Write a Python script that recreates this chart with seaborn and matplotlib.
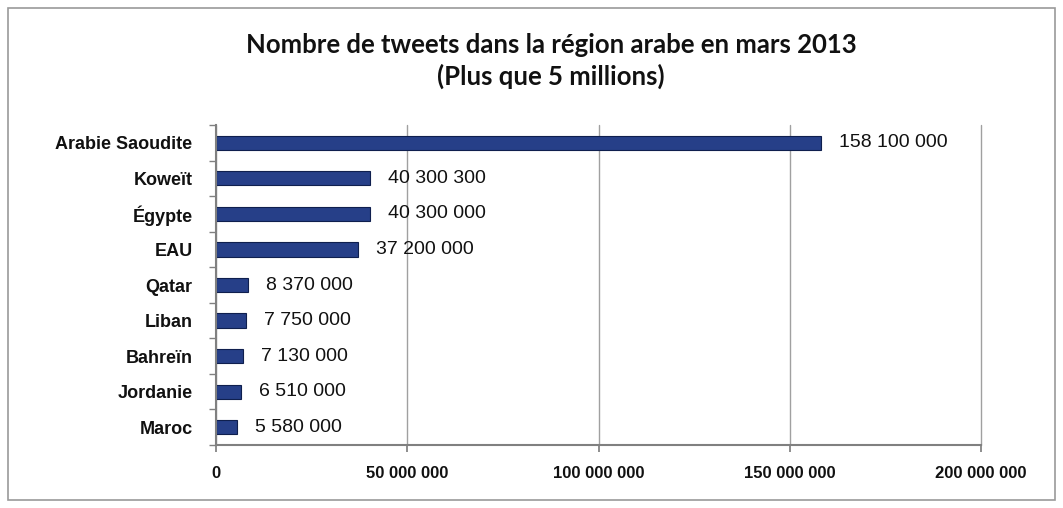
import matplotlib
matplotlib.use("Agg")
import matplotlib.pyplot as plt
import seaborn as sns
import pandas as pd
from matplotlib.patches import Rectangle

countries = ["Arabie Saoudite", "Koweït", "Égypte", "EAU", "Qatar", "Liban", "Bahreïn", "Jordanie", "Maroc"]
tweets = [158100000, 40300300, 40300000, 37200000, 8370000, 7750000, 7130000, 6510000, 5580000]
x_ticks = [0, 50000000, 100000000, 150000000, 200000000]

def fmt(v):
    return f"{v:,}".replace(",", " ")

df = pd.DataFrame({"pays": countries, "tweets": tweets})

sns.set_theme(style="white")
plt.rcParams['font.family'] = ['Liberation Sans', 'DejaVu Sans']

fig = plt.figure(figsize=(10.63, 5.08), dpi=100)
fig.patch.set_facecolor("white")
fig.patches.append(Rectangle((8/1063, 8/508), 1047/1063, 492/508, transform=fig.transFigure,
                             fill=False, edgecolor="#9a9a9a", linewidth=1.2))

ax = fig.add_axes([216/1063, 1 - 445/508, (981 - 216)/1063, (445 - 125)/508])
sns.barplot(data=df, x="tweets", y="pays", orient="h", color="#263f88", saturation=1,
            width=0.4, edgecolor="#0f1f4e", linewidth=0.8, ax=ax)

for c in ax.containers:
    ax.bar_label(c, labels=[fmt(v) for v in tweets], padding=13, fontsize=14, color="#111111")

ax.set_xlim(0, 200000000)
ax.set_xticks(x_ticks)
ax.set_xticklabels([fmt(v) for v in x_ticks], fontsize=12, fontweight="bold", color="#111111")
ax.tick_params(axis="y", labelsize=13, labelcolor="#111111")
for lab in ax.get_yticklabels():
    lab.set_fontweight("bold")
ax.set_xlabel("")
ax.set_ylabel("")
ax.grid(axis="x", color="#a0a0a0", linewidth=1)
for gl in ax.get_xgridlines():
    gl.set_clip_on(False)
ax.set_axisbelow(True)
for s in ["top", "right"]:
    ax.spines[s].set_visible(False)
for s in ["left", "bottom"]:
    ax.spines[s].set_color("#808080")
    ax.spines[s].set_linewidth(1.5)
ax.tick_params(axis="both", which="both", length=5, color="#808080", direction="out",
               bottom=True, left=True, pad=10)
ax.tick_params(axis="y", pad=17)
ax.set_yticks([i - 0.5 for i in range(len(countries) + 1)], minor=True)
ax.tick_params(axis="y", which="major", length=0)
ax.tick_params(axis="y", which="minor", length=5)
ax.set_ylim(len(countries) - 0.5, -0.5)

fig.text(551/1063, 1 - 45/508, "Nombre de tweets dans la région arabe en mars 2013",
         ha="center", va="center", fontsize=18.5, fontweight="bold", color="#111111",
         family=["Lato", "DejaVu Sans"])
fig.text(551/1063, 1 - 76/508, "(Plus que 5 millions)",
         ha="center", va="center", fontsize=18.5, fontweight="bold", color="#111111",
         family=["Lato", "DejaVu Sans"])

fig.savefig("out.png", dpi=100, facecolor="white")
